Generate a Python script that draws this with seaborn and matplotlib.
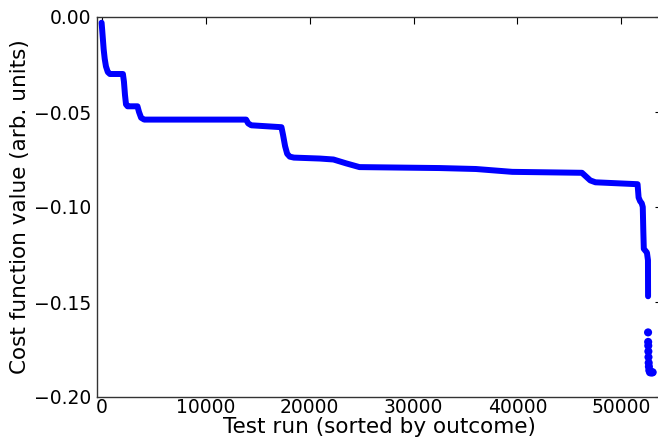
import matplotlib
matplotlib.use("Agg")
import matplotlib.pyplot as plt
import seaborn as sns
import pandas as pd

# Dense sorted-outcome curve (breakpoints)
runs = [0, 60, 130, 200, 300, 420, 600, 800, 2050, 2150, 2250, 2350, 2500,
        3450, 3600, 3800, 4100, 13900, 14100, 14400, 17300, 17450, 17650,
        17850, 18100, 18500, 21000, 22300, 23500, 24800, 32500, 36000,
        39500, 46200, 46600, 47000, 47500, 51550, 51650, 51800, 51950,
        52050, 52100, 52150, 52450, 52550, 52560]
cost = [-0.003, -0.007, -0.012, -0.017, -0.022, -0.026, -0.029, -0.030,
        -0.030, -0.034, -0.041, -0.046, -0.047, -0.047, -0.050, -0.053,
        -0.054, -0.054, -0.056, -0.057, -0.058, -0.062, -0.068, -0.072,
        -0.0735, -0.074, -0.0745, -0.075, -0.077, -0.079, -0.0795, -0.080,
        -0.0815, -0.082, -0.084, -0.086, -0.087, -0.088, -0.095, -0.097,
        -0.098, -0.100, -0.112, -0.122, -0.124, -0.128, -0.147]

# Isolated outliers at the end of the sorted list
tail_runs = [52560, 52570, 52580, 52590, 52600, 52620, 52640, 52680,
             52750, 52850, 52950, 53000]
tail_cost = [-0.166, -0.171, -0.173, -0.176, -0.179, -0.182, -0.184,
             -0.186, -0.187, -0.187, -0.187, -0.187]

x_ticks = [0, 10000, 20000, 30000, 40000, 50000]
y_ticks = [0.00, -0.05, -0.10, -0.15, -0.20]

sns.set_style("white")
plt.rcParams['font.family'] = ['DejaVu Sans']
plt.rcParams['text.color'] = 'black'
plt.rcParams['axes.labelcolor'] = 'black'

fig = plt.figure(figsize=(6.58, 4.42), dpi=100, facecolor='white')
ax = fig.add_axes([96.7 / 658, 1 - 397 / 442, (662 - 96.7) / 658, (397 - 17) / 442])

df = pd.DataFrame({"run": runs, "cost": cost})
tail = pd.DataFrame({"run": tail_runs, "cost": tail_cost})

sns.lineplot(data=df, x="run", y="cost", ax=ax, color="#0000ff",
             linewidth=4.3, estimator=None, sort=False,
             solid_capstyle="round", solid_joinstyle="round")
sns.scatterplot(data=tail, x="run", y="cost", ax=ax, color="#0000ff",
                s=34, edgecolor="none", linewidth=0)

ax.set_xlim(-470, 53900)
ax.set_ylim(-0.2, 0.0)
ax.set_xticks(x_ticks)
ax.set_yticks(y_ticks)
ax.set_yticklabels([f"{v:.2f}".replace("-", "\u2212") for v in y_ticks])
ax.set_xticklabels([str(v) for v in x_ticks])
ax.tick_params(direction="in", top=True, right=True, length=5, width=0.8,
               labelsize=13.5, colors="black")
ax.tick_params(axis="x", pad=1)
ax.tick_params(axis="y", pad=4)
for s in ax.spines.values():
    s.set_color("#333333")
    s.set_linewidth(1.0)
    s.set_visible(True)
ax.set_xlabel("Test run (sorted by outcome)", fontsize=15.5, labelpad=0,
              color="black")
ax.set_ylabel("Cost function value (arb. units)", fontsize=15.5, labelpad=3,
              color="black")
ax.grid(False)

fig.savefig("out.png", dpi=100, facecolor="white")
